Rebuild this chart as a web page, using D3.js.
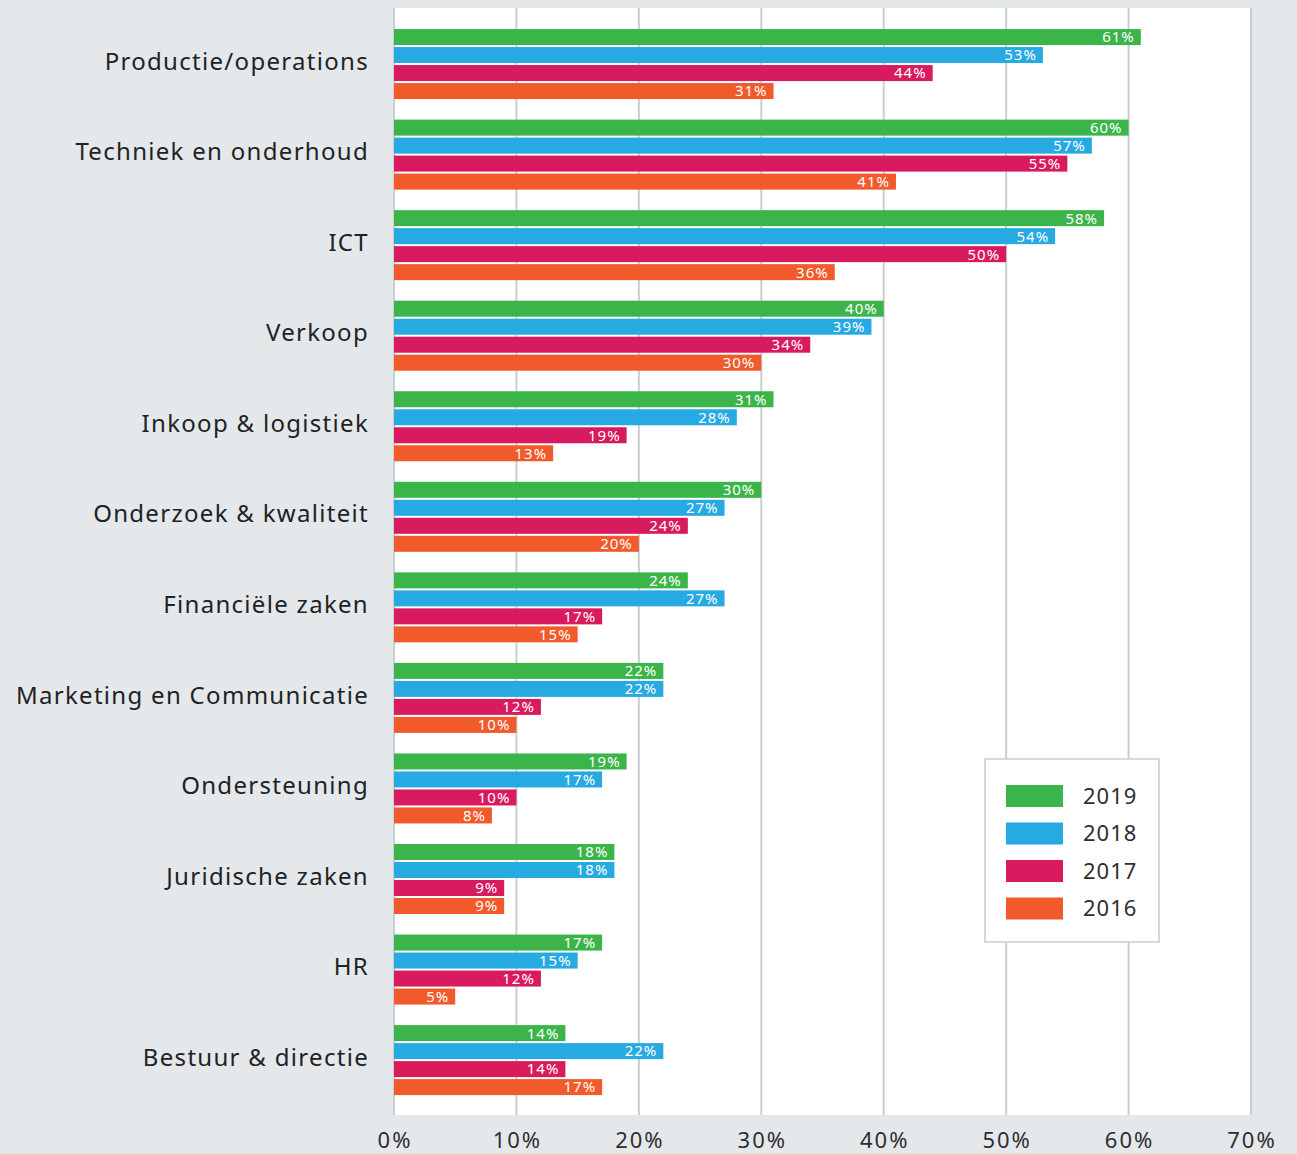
<!DOCTYPE html>
<meta charset="utf-8">
<script src="https://cdn.jsdelivr.net/npm/d3@7"></script>
<style>
body {
    margin: 0;
    background: #e4e8eb;
}
svg {
    display: block;
    font-family: "Noto Sans", "Open Sans", sans-serif;
}
.grid line {
    stroke: #c9ced3;
    stroke-width: 2;
}
.cat {
    font-size: 24px;
    fill: #222;
    letter-spacing: 1.3px;
}
.val {
    font-size: 15px;
    fill: #fff;
    letter-spacing: 1px;
}
.tick-label {
    font-size: 22px;
    fill: #2e2e2e;
    letter-spacing: 2px;
}
.legend-label {
    font-size: 22px;
    fill: #2e2e2e;
    letter-spacing: 1px;
}
</style>
<svg width="1297" height="1154"></svg>
<script>

// categorieën en waarden per jaar
var categories = ["Productie/operations", "Techniek en onderhoud", "ICT", "Verkoop",
    "Inkoop & logistiek", "Onderzoek & kwaliteit", "Financiële zaken",
    "Marketing en Communicatie", "Ondersteuning", "Juridische zaken", "HR",
    "Bestuur & directie"];
var years = ["2019", "2018", "2017", "2016"];
var values2019 = [61, 60, 58, 40, 31, 30, 24, 22, 19, 18, 17, 14];
var values2018 = [53, 57, 54, 39, 28, 27, 27, 22, 17, 18, 15, 22];
var values2017 = [44, 55, 50, 34, 19, 24, 17, 12, 10, 9, 12, 14];
var values2016 = [31, 41, 36, 30, 13, 20, 15, 10, 8, 9, 5, 17];
var colors = ["#3bb54a", "#27a9e1", "#d81b5e", "#f15a2b"];
var xTicks = [0, 10, 20, 30, 40, 50, 60, 70];

var series = [values2019, values2018, values2017, values2016];

var svg = d3.select("svg");

var x = d3.scaleLinear().domain([0, 70]).range([394, 1251]);

var y = d3.scaleBand()
    .domain(categories)
    .range([20, 1106.6])
    .paddingInner(0.2)
    .paddingOuter(0.1);

var yInner = d3.scaleBand()
    .domain(years)
    .range([0, 70])
    .paddingInner(0.11);

var color = d3.scaleOrdinal().domain(years).range(colors);

// witte plotvlak
svg.append("rect")
    .attr("x", x(0))
    .attr("y", 8)
    .attr("width", x(70) - x(0))
    .attr("height", 1115 - 8)
    .attr("fill", "#fff");

// rasterlijnen
svg.append("g")
    .attr("class", "grid")
    .selectAll("line")
    .data(xTicks)
    .enter().append("line")
    .attr("x1", function(d) { return x(d); })
    .attr("x2", function(d) { return x(d); })
    .attr("y1", 8)
    .attr("y2", 1115);

// balken
var group = svg.append("g")
    .selectAll("g")
    .data(categories)
    .enter().append("g")
    .attr("transform", function(d) { return "translate(0," + y(d) + ")"; });

group.each(function(cat, i) {
    var g = d3.select(this);
    var rows = years.map(function(yr, j) { return {year: yr, value: series[j][i]}; });

    g.selectAll("rect")
        .data(rows)
        .enter().append("rect")
        .attr("x", x(0))
        .attr("y", function(d) { return yInner(d.year); })
        .attr("width", function(d) { return x(d.value) - x(0); })
        .attr("height", yInner.bandwidth())
        .attr("fill", function(d) { return color(d.year); });

    g.selectAll("text.val")
        .data(rows)
        .enter().append("text")
        .attr("class", "val")
        .attr("x", function(d) { return x(d.value) - 6; })
        .attr("y", function(d) { return yInner(d.year) + yInner.bandwidth() / 2; })
        .attr("dy", "0.36em")
        .attr("text-anchor", "end")
        .text(function(d) { return d.value + "%"; });

    g.append("text")
        .attr("class", "cat")
        .attr("x", 369)
        .attr("y", 32)
        .attr("dy", "0.36em")
        .attr("text-anchor", "end")
        .text(cat);
});

// x-as labels
svg.append("g")
    .selectAll("text")
    .data(xTicks)
    .enter().append("text")
    .attr("class", "tick-label")
    .attr("x", function(d) { return x(d) + 1; })
    .attr("y", 1148)
    .attr("text-anchor", "middle")
    .text(function(d) { return d + "%"; });

// legenda
var legend = svg.append("g").attr("transform", "translate(985,759)");

legend.append("rect")
    .attr("width", 174)
    .attr("height", 183)
    .attr("fill", "#fff")
    .attr("stroke", "#c9ced3")
    .attr("stroke-width", 1.5);

var item = legend.selectAll("g")
    .data(years)
    .enter().append("g")
    .attr("transform", function(d, i) { return "translate(0," + (37 + i * 37.5) + ")"; });

item.append("rect")
    .attr("x", 21)
    .attr("y", -11)
    .attr("width", 57)
    .attr("height", 22)
    .attr("fill", function(d) { return color(d); });

item.append("text")
    .attr("class", "legend-label")
    .attr("x", 98)
    .attr("dy", "0.36em")
    .text(function(d) { return d; });

</script>
